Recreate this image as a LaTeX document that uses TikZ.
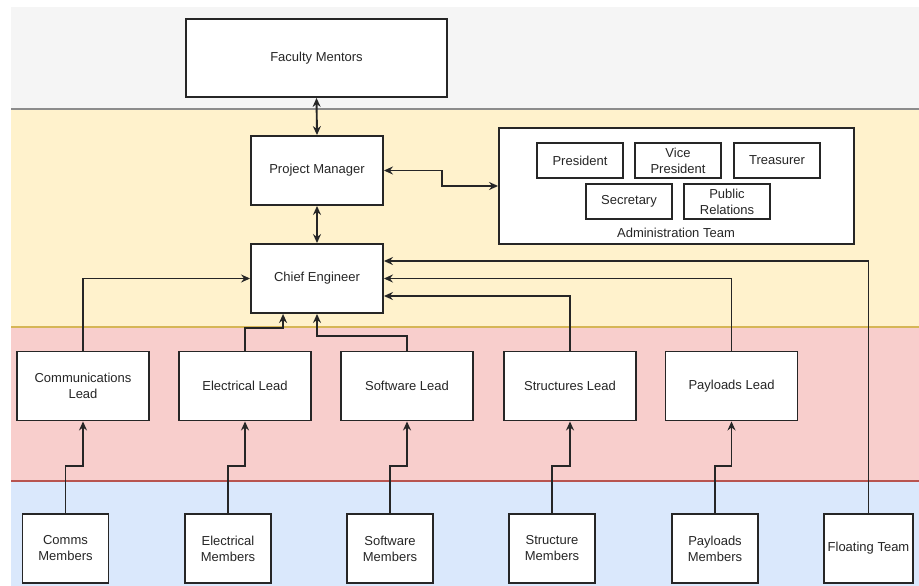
\documentclass[tikz,border=0pt]{standalone}
\usepackage{fontspec}
\setmainfont{Liberation Sans}
\usetikzlibrary{arrows.meta,calc}
\definecolor{bandgray}{HTML}{F5F5F5}
\definecolor{bandyellow}{HTML}{FFF2CC}
\definecolor{bandred}{HTML}{F8CECC}
\definecolor{bandblue}{HTML}{DAE8FC}
\definecolor{linegray}{HTML}{8C8C8C}
\definecolor{lineyellow}{HTML}{D6B656}
\definecolor{linered}{HTML}{B85450}
\definecolor{txt}{HTML}{262626}
\tikzset{
  box/.style={draw=black!85, line width=1.9pt, fill=white, rectangle, align=center,
    inner sep=1pt, text=txt, font=\fontsize{13}{16}\selectfont},
  bigbox/.style={box, minimum width=132pt, minimum height=69pt},
  smallbox/.style={box, minimum width=86pt, minimum height=35pt},
  membox/.style={box, minimum width=86pt, minimum height=69pt},
  conn/.style={draw=black!85, line width=1.9pt, -{Stealth[length=9pt,width=8pt,inset=3pt]}},
  connboth/.style={draw=black!85, line width=1.9pt, {Stealth[length=9pt,width=8pt,inset=3pt]}-{Stealth[length=9pt,width=8pt,inset=3pt]}},
}
\begin{document}
\begin{tikzpicture}[x=1pt,y=-1pt]
\useasboundingbox (0,0) rectangle (919,586);
% bands
\fill[white] (0,0) rectangle (919,586);
\fill[bandgray] (11,7) rectangle (919,109);
\fill[bandyellow] (11,109) rectangle (919,327);
\fill[bandred] (11,327) rectangle (919,481);
\fill[bandblue] (11,481) rectangle (919,586);
\draw[linegray, line width=1.4pt] (11,109) -- (919,109);
\draw[lineyellow, line width=1.4pt] (11,327) -- (919,327);
\draw[linered, line width=1.4pt] (11,481) -- (919,481);

% top nodes
\node[box, minimum width=261pt, minimum height=78pt] (fm) at (316.5,58) {Faculty Mentors};
\node[bigbox] (pm) at (317,170.5) {Project Manager};
\node[bigbox] (ce) at (317,278.5) {Chief Engineer};

% administration team
\node[box, minimum width=355pt, minimum height=116pt] (admin) at (676.5,186) {};
\node[smallbox] (pres) at (580,160.5) {President};
\node[smallbox] (vp) at (678,160.5) {Vice\\President};
\node[smallbox] (treas) at (777,160.5) {Treasurer};
\node[smallbox] (sec) at (629,201.5) {Secretary};
\node[smallbox] (pr) at (727,201.5) {Public\\Relations};
\node[text=txt, font=\fontsize{13}{16}\selectfont, inner sep=0pt] (adminlbl) at (676,233) {Administration Team};

% leads
\node[bigbox] (cl) at (83,386) {Communications\\Lead};
\node[bigbox] (el) at (245,386) {Electrical Lead};
\node[bigbox] (sl) at (407,386) {Software Lead};
\node[bigbox] (stl) at (570,386) {Structures Lead};
\node[bigbox] (pl) at (731.5,386) {Payloads Lead};

% members
\node[membox] (cmm) at (65.5,548.5) {Comms\\Members};
\node[membox] (emm) at (228,548.5) {Electrical\\Members};
\node[membox] (smm) at (390,548.5) {Software\\Members};
\node[membox] (stm) at (552,548.5) {Structure\\Members};
\node[membox] (pmm) at (715,548.5) {Payloads\\Members};
\node[box, minimum width=89pt, minimum height=69pt] (ft) at (868.5,548.5) {Floating Team};

% connectors top
\draw[connboth] (fm.south) -- (pm.north);
\draw[connboth] (pm.south) -- (ce.north);
\draw[connboth] (pm.east) -- ++(58,0) |- (admin.west);

% members -> leads
\draw[conn] (cmm.north) -- ++(0,-47) -| (cl.south);
\draw[conn] (emm.north) -- ++(0,-47) -| (el.south);
\draw[conn] (smm.north) -- ++(0,-47) -| (sl.south);
\draw[conn] (stm.north) -- ++(0,-47) -| (stl.south);
\draw[conn] (pmm.north) -- ++(0,-47) -| (pl.south);

% leads -> chief engineer
\draw[conn] (cl.north) |- (ce.west);
\draw[conn] (el.north) -- ++(0,-23) -| ([xshift=33pt]ce.south west);
\draw[conn] (sl.north) -- ++(0,-15) -| (ce.south);
\draw[conn] (stl.north) |- ([yshift=-17.5pt]ce.east);
\draw[conn] (pl.north) |- (ce.east);
\draw[conn] (ft.north) |- ([yshift=17.5pt]ce.east);
\end{tikzpicture}
\end{document}
